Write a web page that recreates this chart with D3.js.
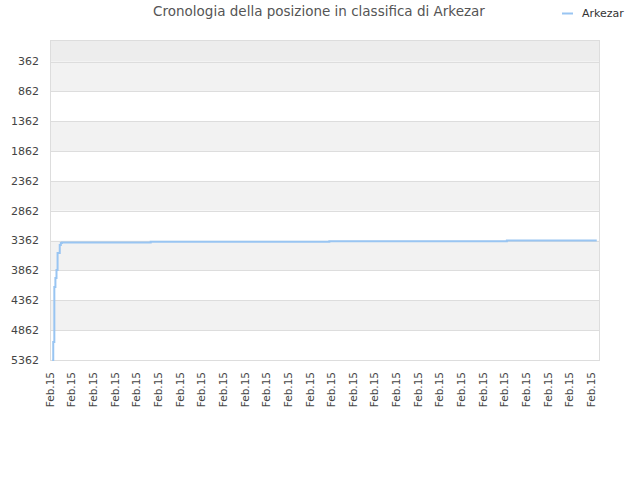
<!DOCTYPE html>
<html><head><meta charset="utf-8">
<script src="https://cdn.jsdelivr.net/npm/d3@7"></script>
<style>body{margin:0;background:#fff;font-family:"DejaVu Sans",sans-serif;}</style>
</head><body>
<svg id="c" width="640" height="480"></svg>
<script>
const title = "Cronologia della posizione in classifica di Arkezar";
const seriesName = "Arkezar";
const yTicks = [362, 862, 1362, 1862, 2362, 2862, 3362, 3862, 4362, 4862, 5362];
const xTickIdx = [0,20,40,60,80,100,120,140,160,180,200,220,240,260,280,300,320,340,360,380,400,420,440,460,480,500];
const xTickLabels = xTickIdx.map(() => "Feb.15");
const pointIdx = [2, 3, 4, 5, 6, 7, 9, 10, 11, 93, 258, 422, 505];
const pointRank = [5362, 5061, 4139, 3988, 3854, 3569, 3435, 3402, 3394, 3382, 3372, 3360, 3360];

const svg = d3.select("#c");
const L = 50, R = 600, T = 40, B = 360;
const x = d3.scaleLinear().domain([0, 508]).range([L, R]);
const y = d3.scaleLinear().domain([1, 5362]).range([T, B]);

// bands
svg.append("rect").attr("x", L).attr("y", T).attr("width", R - L).attr("height", y(362) - T).attr("fill", "#ededed");
for (let i = 0; i < yTicks.length - 1; i++) {
  svg.append("rect").attr("x", L).attr("y", y(yTicks[i])).attr("width", R - L)
    .attr("height", y(yTicks[i + 1]) - y(yTicks[i])).attr("fill", i % 2 === 0 ? "#f2f2f2" : "#ffffff");
}
// grid
svg.append("g").selectAll("line").data(yTicks).join("line")
  .attr("x1", L).attr("x2", R).attr("y1", d => Math.round(y(d)) + 0.5).attr("y2", d => Math.round(y(d)) + 0.5)
  .attr("stroke", "#dddddd").attr("stroke-width", 1);
svg.append("rect").attr("x", L + 0.5).attr("y", T + 0.5).attr("width", R - L - 1).attr("height", B - T)
  .attr("fill", "none").attr("stroke", "#dddddd");

// y labels
svg.append("g").selectAll("text").data(yTicks).join("text")
  .attr("x", 39).attr("y", d => y(d)).attr("dy", "0.35em").attr("text-anchor", "end")
  .attr("font-size", 11).attr("fill", "#444").text(d => d);

// x labels
svg.append("g").selectAll("text").data(xTickIdx).join("text")
  .attr("transform", d => `translate(${x(d)},372) rotate(-90)`)
  .attr("dy", "0.35em").attr("text-anchor", "end")
  .attr("font-size", 10.5).attr("fill", "#444").text((d, i) => xTickLabels[i]);

// line
const pts = pointIdx.map((d, i) => [x(d), y(pointRank[i])]);
svg.append("path").attr("d", d3.line().curve(d3.curveStepAfter)(pts))
  .attr("fill", "none").attr("stroke", "#99c5f2").attr("stroke-width", 2);

// title
svg.append("text").attr("x", 319).attr("y", 16).attr("text-anchor", "middle")
  .attr("font-size", 13.5).attr("fill", "#555").text(title);
// legend
svg.append("line").attr("x1", 562).attr("x2", 573).attr("y1", 13.5).attr("y2", 13.5)
  .attr("stroke", "#99c5f2").attr("stroke-width", 2);
svg.append("text").attr("x", 582).attr("y", 13).attr("dy", "0.35em")
  .attr("font-size", 11).attr("fill", "#333").text(seriesName);
</script>
</body></html>
